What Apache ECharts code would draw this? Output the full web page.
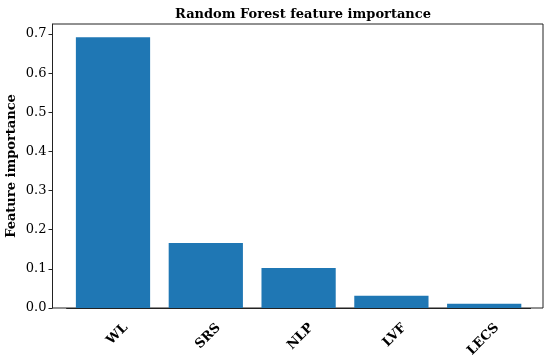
<!DOCTYPE html>
<html>
<head>
<meta charset="utf-8">
<script src="https://cdn.jsdelivr.net/npm/echarts@6/dist/echarts.min.js"></script>
<style>
  html, body { margin: 0; padding: 0; background: #fff; }
  #chart { width: 550px; height: 358px; }
</style>
</head>
<body>
<div id="chart"></div>
<script>
// feature names and their importance
var features = ['WL', 'SRS', 'NLP', 'LVF', 'LECS']
var importance = [0.6915, 0.1659, 0.1021, 0.0314, 0.011]
var yTicks = [0, 0.1, 0.2, 0.3, 0.4, 0.5, 0.6, 0.7]

var font = 'DejaVu Serif'
var chart = echarts.init(document.getElementById('chart'))

chart.setOption({
  animation: false,
  title: {
    text: 'Random Forest feature importance',
    left: 298,
    top: 3,
    textAlign: 'center',
    textStyle: { fontFamily: font, fontSize: 13, fontWeight: 'bold', color: '#000' }
  },
  grid: [
    // frame (matplotlib spines)
    { left: 52.5, right: 7, top: 24, bottom: 50, outerBoundsMode: 'none', show: true, borderColor: '#222', borderWidth: 1, backgroundColor: 'transparent' },
    // data area, narrower so bars sit with matplotlib margins
    { left: 66.6, right: 19.4, top: 24, bottom: 50, outerBoundsMode: 'none' }
  ],
  xAxis: [
    { gridIndex: 0, type: 'value', show: false, min: 0, max: 1 },
    {
      gridIndex: 1,
      type: 'category',
      data: features,
      axisLine: { lineStyle: { color: '#222', width: 1 } },
      axisTick: { alignWithLabel: true, length: 4, lineStyle: { color: '#222' } },
      axisLabel: {
        rotate: 45,
        margin: 5,
        align: 'right',
        verticalAlign: 'top',
        lineHeight: 36,
        fontFamily: font,
        fontSize: 13,
        fontWeight: 'bold',
        color: '#000'
      }
    }
  ],
  yAxis: [
    { gridIndex: 0, type: 'value', show: false, min: 0, max: 1 },
    {
      gridIndex: 1,
      type: 'value',
      min: 0,
      max: 0.7255,
      offset: 14.1,
      name: 'Feature importance',
      nameLocation: 'middle',
      nameGap: 34,
      nameMoveOverlap: false,
      nameTextStyle: { fontFamily: font, fontSize: 13, fontWeight: 'bold', color: '#000' },
      axisLine: { show: true, lineStyle: { color: '#222', width: 1 } },
      axisTick: { show: true, length: 4, customValues: yTicks, lineStyle: { color: '#222' } },
      axisLabel: {
        customValues: yTicks,
        margin: 6,
        formatter: function (v) { return v.toFixed(1) },
        fontFamily: font,
        fontSize: 13,
        color: '#000'
      },
      splitLine: { show: false }
    }
  ],
  series: [{
    type: 'bar',
    xAxisIndex: 1,
    yAxisIndex: 1,
    data: importance,
    barWidth: '80%',
    itemStyle: { color: '#1f77b4' }
  }]
})
</script>
</body>
</html>
